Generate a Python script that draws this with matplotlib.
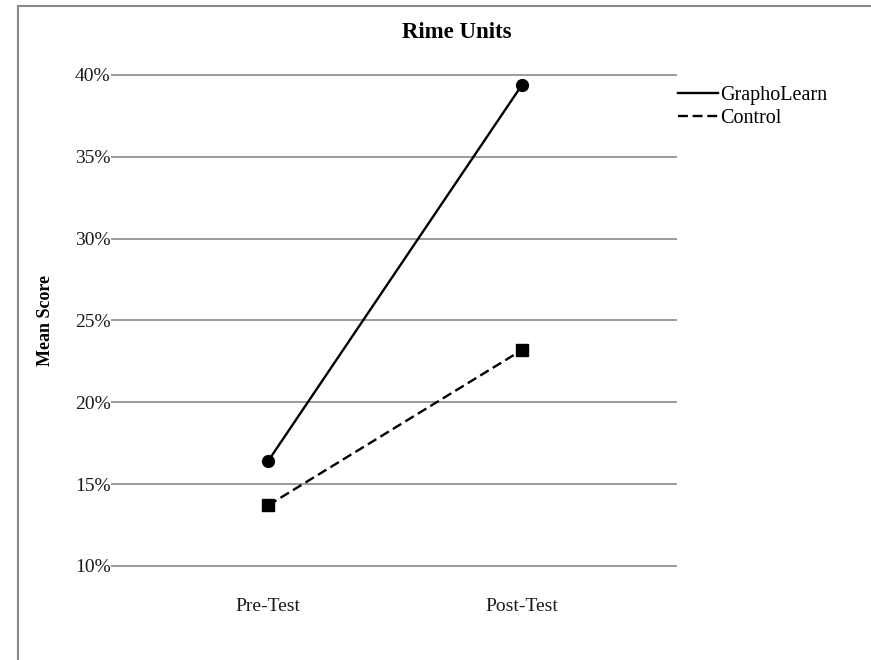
import matplotlib
matplotlib.use("Agg")
import matplotlib.pyplot as plt
from matplotlib.lines import Line2D

# Daten
phases = ["Pre-Test", "Post-Test"]
grapholearn = [16.4, 39.4]
control = [13.7, 23.2]
y_ticks = [10, 15, 20, 25, 30, 35, 40]

plt.rcParams["font.family"] = ["Liberation Serif", "DejaVu Serif"]

W, H = 871, 660
fig = plt.figure(figsize=(W / 100, H / 100), dpi=100)
ax = fig.add_axes([112 / W, 1 - 566 / H, (676 - 112) / W, (566 - 75) / H])

x = list(range(len(phases)))
ax.plot(x, grapholearn, color="black", lw=1.7, marker="o", ms=8.5,
        label="GraphoLearn", zorder=3)
ax.plot(x, control, color="black", lw=1.7, ls=(0, (4.2, 2.0)), marker="s",
        ms=8.3, label="Control", zorder=3)

ax.set_xlim(-0.614, 1.606)
ax.set_ylim(10, 40)
ax.set_yticks(y_ticks)
ax.set_yticklabels([f"{t}%" for t in y_ticks])
ax.set_xticks(x)
ax.set_xticklabels(phases)
ax.tick_params(length=0, labelsize=14, colors="#1a1a1a")
ax.tick_params(axis="x", pad=23)
ax.tick_params(axis="y", pad=1)
for s in ax.spines.values():
    s.set_visible(False)
ax.yaxis.grid(True, color="#9a9a9a", lw=1.4)
for gl in ax.get_ygridlines():
    gl.set_clip_on(False)
ax.set_axisbelow(True)

fig.text(457 / W, 1 - 33 / H, "Rime Units", ha="center", va="center",
         fontsize=16.5, fontweight="bold")
fig.text(46 / W, 1 - 320 / H, "Mean Score", ha="center", va="center",
         rotation=90, fontsize=13, fontweight="bold")

ax.legend(loc="upper left", bbox_to_anchor=(678 / W, 1 - 86 / H),
          bbox_transform=fig.transFigure, frameon=False,
          fontsize=14.5, handlelength=2.0, handletextpad=0.1,
          labelspacing=0.2, borderaxespad=0, borderpad=0)
leg = ax.get_legend()
for h in leg.legend_handles:
    h.set_marker("")

# Rahmen links und oben
fig.add_artist(Line2D([18 / W, 18 / W], [0, 1 - 6 / H], color="#8a8a8a", lw=1.5))
fig.add_artist(Line2D([18 / W, 1], [1 - 6 / H, 1 - 6 / H], color="#8a8a8a", lw=1.5))

fig.savefig("out.png", dpi=100)
